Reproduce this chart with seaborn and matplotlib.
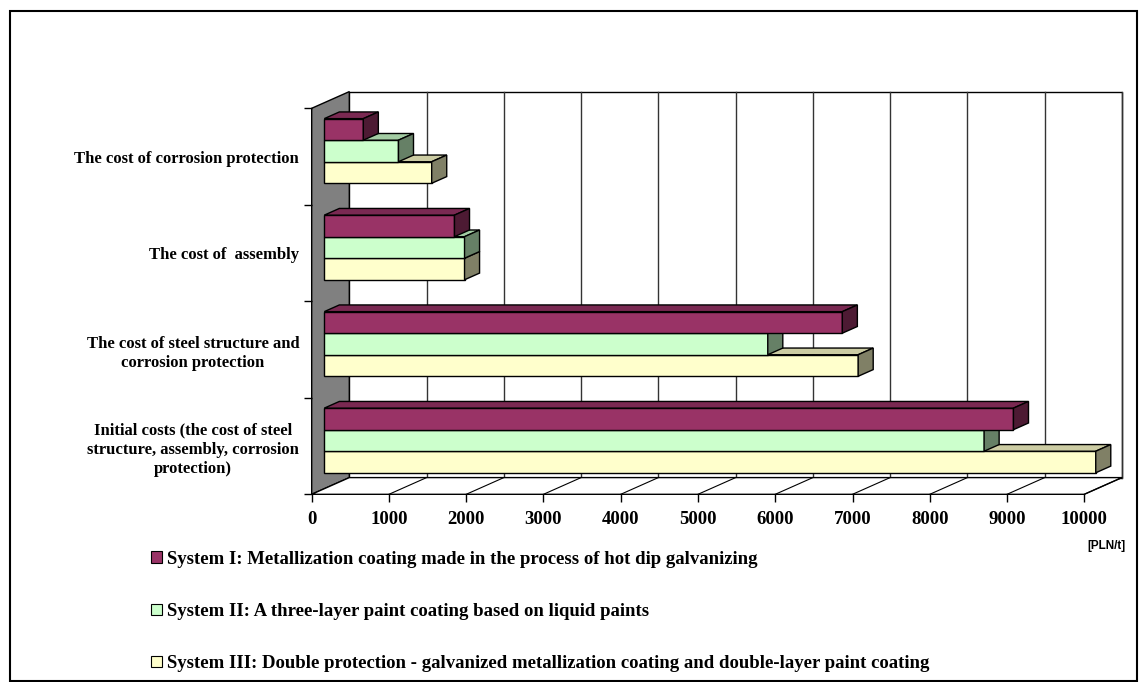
import matplotlib
matplotlib.use('Agg')
import numpy as np
import pandas as pd
import matplotlib.pyplot as plt
from matplotlib.patches import Polygon, Rectangle, Patch
import seaborn as sns

# data [PLN/t]
categories = ['The cost of corrosion protection',
              'The cost of  assembly',
              'The cost of steel structure and\ncorrosion protection',
              'Initial costs (the cost of steel\nstructure, assembly, corrosion\nprotection)']
systems = ['System I: Metallization coating made in the process of hot dip galvanizing',
           'System II: A three-layer paint coating based on liquid paints',
           'System III: Double protection - galvanized metallization coating and double-layer paint coating']
system_1 = [505, 1685, 6705, 8920]
system_2 = [960, 1815, 5740, 8540]
system_3 = [1390, 1815, 6910, 9985]
x_ticks = [0, 1000, 2000, 3000, 4000, 5000, 6000, 7000, 8000, 9000, 10000]

colors = ['#993366', '#CCFFCC', '#FFFFCC']

df = pd.DataFrame({
    'category': categories * 3,
    'system': [systems[0]] * 4 + [systems[1]] * 4 + [systems[2]] * 4,
    'value': system_1 + system_2 + system_3,
})

plt.rcParams['font.family'] = 'Liberation Serif'
plt.rcParams['font.weight'] = 'bold'

W, H = 1139, 682
fig = plt.figure(figsize=(W / 100, H / 100), dpi=100)

# front plane of the 3d box (pixels)
x0_px, x1_px = 311.7, 1084.3
y_top_px, y_bot_px = 108.3, 494.3
ax = fig.add_axes([x0_px / W, (H - y_bot_px) / H, (x1_px - x0_px) / W, (y_bot_px - y_top_px) / H])
ax.patch.set_alpha(0)

sns.barplot(data=df, x='value', y='category', hue='system', palette=colors,
            width=0.67, saturation=1, edgecolor='black', linewidth=1,
            legend=False, ax=ax)
ax.set_xlim(0, 10000)
ax.set_ylim(3.5, -0.5)

# depth vector of the box in data units
px_x = (x1_px - x0_px) / 10000
px_y = (y_bot_px - y_top_px) / 4
Dx = 37.6 / px_x
Dy = -16.7 / px_y

# walls
side = Polygon([(0, -0.5), (Dx, -0.5 + Dy), (Dx, 3.5 + Dy), (0, 3.5)],
               closed=True, facecolor='#808080', edgecolor='black', lw=1, clip_on=False, zorder=0.5)
ax.add_patch(side)
back = Rectangle((Dx, -0.5 + Dy), 10000, 4, facecolor='white', edgecolor='black',
                 lw=1, clip_on=False, zorder=0.3)
ax.add_patch(back)
floor = Polygon([(0, 3.5), (10000, 3.5), (10000 + Dx, 3.5 + Dy), (Dx, 3.5 + Dy)],
                closed=True, facecolor='white', edgecolor='black', lw=1, clip_on=False, zorder=0.5)
ax.add_patch(floor)
for v in x_ticks[1:]:
    ax.plot([v + Dx, v + Dx], [3.5 + Dy, -0.5 + Dy], color='#333333', lw=1, clip_on=False, zorder=0.4)
    ax.plot([v, v + Dx], [3.5, 3.5 + Dy], color='black', lw=0.8, clip_on=False, zorder=0.6)

# 3d bars: shift front face into the box, add top and side faces
f, b = 0.335, 0.4
for k, (cont, col) in enumerate(zip(ax.containers, colors)):
    rgb = np.array(matplotlib.colors.to_rgb(col))
    z = 5 - k
    for p in cont.patches:
        p.set_x(p.get_x() + f * Dx)
        p.set_y(p.get_y() + f * Dy)
        p.set_zorder(z)
        p.set_clip_on(False)
        x, y, w, h = p.get_x(), p.get_y(), p.get_width(), p.get_height()
        top = Polygon([(x, y), (x + w, y), (x + w + b * Dx, y + b * Dy), (x + b * Dx, y + b * Dy)],
                      closed=True, facecolor=rgb * 0.8, edgecolor='black', lw=1, zorder=z, clip_on=False)
        sd = Polygon([(x + w, y), (x + w, y + h), (x + w + b * Dx, y + h + b * Dy), (x + w + b * Dx, y + b * Dy)],
                     closed=True, facecolor=rgb * 0.5, edgecolor='black', lw=1, zorder=z, clip_on=False)
        ax.add_patch(top)
        ax.add_patch(sd)

# axes, ticks and labels
for s in ax.spines.values():
    s.set_visible(False)
ax.set_xlabel('')
ax.set_ylabel('')
ax.set_xticks(x_ticks)
ax.set_xticklabels([str(v) for v in x_ticks])
ax.tick_params(axis='x', length=6, width=1, pad=6, labelsize=13.5)
ax.set_yticks([-0.5, 0.5, 1.5, 2.5, 3.5], minor=True)
ax.tick_params(axis='y', which='minor', length=6, width=1)
ax.tick_params(axis='y', which='major', length=0, pad=9, labelsize=12)
for t in ax.get_yticklabels():
    t.set_multialignment('center')
    t.set_linespacing(1.25)

handles = [Patch(facecolor=c, edgecolor='black', lw=0.8) for c in colors]
fig.legend(handles, systems, loc='upper left', bbox_to_anchor=(151 / W, 1 - 551 / H),
           frameon=False, handlelength=0.6, handleheight=0.6, handletextpad=0.25,
           labelspacing=1.87, borderpad=0, borderaxespad=0,
           prop=dict(family='Liberation Serif', weight='bold', size=13.5))

fig.text(1125 / W, 1 - 546 / H, '[PLN/t]', ha='right', va='center',
         family='Liberation Sans', weight='bold', size=8.5)

fig.add_artist(Rectangle((10 / W, 1 / H), 1127 / W, 670 / H, transform=fig.transFigure,
                         fill=False, edgecolor='black', lw=1.5))

fig.savefig('out.png', dpi=100)
